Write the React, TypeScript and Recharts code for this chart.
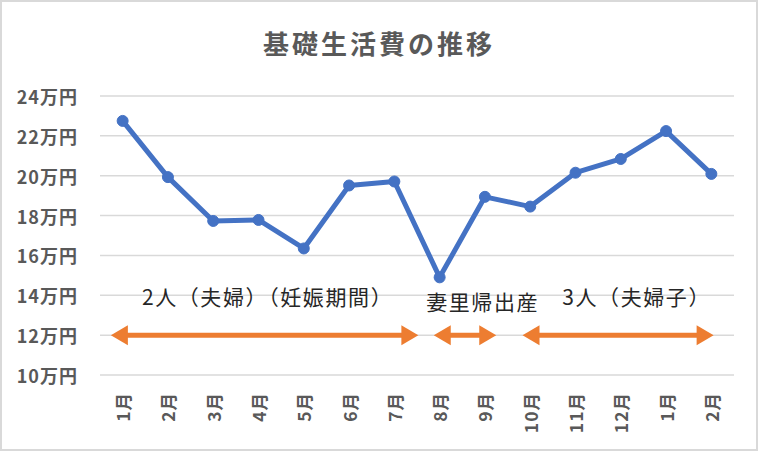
import React from 'react';
import { LineChart, Line, XAxis, YAxis, CartesianGrid, ReferenceLine, ReferenceDot } from 'recharts';

const months = ['1月', '2月', '3月', '4月', '5月', '6月', '7月', '8月', '9月', '10月', '11月', '12月', '1月', '2月'];
const costs = [22.75, 19.93, 17.73, 17.78, 16.35, 19.51, 19.71, 14.9, 18.94, 18.45, 20.15, 20.84, 22.24, 20.09];
const yTicks = [10, 12, 14, 16, 18, 20, 22, 24];

// 期間の注記（矢印の範囲はカテゴリ番号で指定）
const periodLabels = ['2人（夫婦）（妊娠期間）', '妻里帰出産', '3人（夫婦子）'];
const periodStart = [-0.26, 6.87, 8.83];
const periodEnd = [6.53, 8.25, 13.05];
const periodLabelX = [3.2, 7.95, 11.35];
const periodLabelY = [13.9, 13.64, 13.9];
const arrowLevel = 12;

const data = costs.map((cost, idx) => ({ idx, cost }));
const font = '"Noto Sans CJK JP", "Noto Sans", sans-serif';
const axisColor = '#595959';
const orange = '#ED7D31';

const YTick = (props: any) => {
  const { x, y, payload } = props;
  return (
    <text x={x} y={y} textAnchor="end" dominantBaseline="central" fill={axisColor}
      fontSize={18} fontWeight="bold" fontFamily={font} letterSpacing={1}>
      {payload.value}万円
    </text>
  );
};

const XTick = (props: any) => {
  const { x, y, payload } = props;
  return (
    <text x={x} y={y} transform={`rotate(-90 ${x} ${y})`} textAnchor="end" dominantBaseline="central"
      fill={axisColor} fontSize={17.5} fontWeight="bold" fontFamily={font} letterSpacing={1}>
      {months[payload.value]}
    </text>
  );
};

const Arrow = (props: any) => {
  const { x1, y1, x2 } = props;
  const head = 17;
  const half = 10;
  return (
    <g>
      <line x1={x1 + head - 2} y1={y1} x2={x2 - head + 2} y2={y1} stroke={orange} strokeWidth={5} />
      <polygon points={`${x1},${y1} ${x1 + head},${y1 - half} ${x1 + head},${y1 + half}`} fill={orange} />
      <polygon points={`${x2},${y1} ${x2 - head},${y1 - half} ${x2 - head},${y1 + half}`} fill={orange} />
    </g>
  );
};

export default function App() {
  return (
    <div style={{ position: 'absolute', left: 0, top: 0, width: 758, height: 451, background: '#fff', fontFamily: font }}>
      <div style={{ position: 'absolute', left: 0, top: 28, width: 758, textAlign: 'center', fontSize: 26,
        lineHeight: '30px', fontWeight: 'bold', color: axisColor, letterSpacing: 3 }}>
        基礎生活費の推移
      </div>
      <div style={{ position: 'absolute', left: 0, top: 0 }}>
        <LineChart width={758} height={451} data={data} margin={{ top: 96, right: 24, bottom: 0, left: 0 }}>
          <CartesianGrid vertical={false} stroke="#D9D9D9" strokeWidth={1.5} />
          <XAxis dataKey="idx" type="number" domain={[-0.5, 13.5]} ticks={months.map((_, i) => i)}
            interval={0} axisLine={false} tickLine={false} tickSize={0} tickMargin={17} height={76} tick={<XTick />} />
          <YAxis domain={[10, 24]} ticks={yTicks} interval={0} axisLine={false} tickLine={false}
            tickSize={0} tickMargin={22} width={100} tick={<YTick />} />
          {periodLabels.map((label, i) => (
            <ReferenceLine key={`arrow-${i}`} segment={[{ x: periodStart[i], y: arrowLevel }, { x: periodEnd[i], y: arrowLevel }]}
              shape={<Arrow />} />
          ))}
          {periodLabels.map((label, i) => (
            <ReferenceDot key={`label-${i}`} x={periodLabelX[i]} y={periodLabelY[i]} r={0} stroke="none" fill="none"
              label={{ value: label, position: 'center', fill: '#262626', fontSize: 21, fontFamily: font, letterSpacing: 1.6 }} />
          ))}
          <Line dataKey="cost" stroke="#4472C4" strokeWidth={5} strokeLinejoin="round"
            dot={{ r: 5.5, fill: '#4472C4', stroke: '#4472C4', strokeWidth: 1 }} isAnimationActive={false} />
        </LineChart>
      </div>
      <div style={{ position: 'absolute', inset: 0, border: '2px solid #D9D9D9', pointerEvents: 'none' }} />
    </div>
  );
}
